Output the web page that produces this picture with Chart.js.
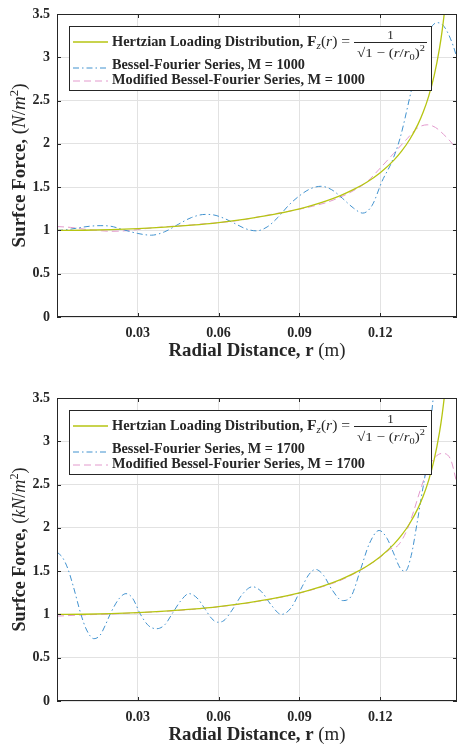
<!DOCTYPE html>
<html>
<head>
<meta charset="utf-8">
<script src="https://cdn.jsdelivr.net/npm/chart.js@4.4.0/dist/chart.umd.min.js"></script>
<style>
  html, body { margin: 0; padding: 0; background: #fff; }
  .panel { position: absolute; left: 0; width: 458px; height: 364px; }
</style>
</head>
<body>
<div class="panel" style="top:0"><canvas id="upper" width="458" height="364"></canvas></div>
<div class="panel" style="top:384px"><canvas id="lower" width="458" height="364"></canvas></div>
<script>
// tick positions
const xTicks = [0.03, 0.06, 0.09, 0.12];
const yTicks = [0, 0.5, 1, 1.5, 2, 2.5, 3, 3.5];

// Hertzian loading, same in both panels
const radius = [0, 0.01, 0.02, 0.03, 0.04, 0.05, 0.06, 0.07, 0.08, 0.09, 0.095, 0.1, 0.105, 0.11, 0.115, 0.12, 0.125, 0.128, 0.131, 0.134, 0.136, 0.138, 0.14, 0.142, 0.143, 0.144, 0.145];
const hertzian = [1, 1.002, 1.009, 1.021, 1.038, 1.061, 1.091, 1.131, 1.182, 1.25, 1.292, 1.342, 1.4, 1.471, 1.557, 1.667, 1.809, 1.918, 2.053, 2.225, 2.37, 2.552, 2.785, 3.104, 3.311, 3.571, 3.906];

// M = 1000
const radius1000 = [0, 0.004, 0.008, 0.012, 0.016, 0.02, 0.025, 0.03, 0.035, 0.04, 0.045, 0.05, 0.055, 0.058, 0.062, 0.066, 0.07, 0.074, 0.078, 0.082, 0.086, 0.09, 0.094, 0.098, 0.102, 0.106, 0.11, 0.1135, 0.117, 0.1207, 0.1244, 0.1274, 0.1315, 0.1345, 0.1374, 0.1395, 0.1411, 0.143, 0.1448, 0.147, 0.149];
const bessel1000 = [1.0, 1.01, 1.03, 1.048, 1.055, 1.048, 1.005, 0.965, 0.945, 0.985, 1.07, 1.15, 1.185, 1.18, 1.14, 1.08, 1.02, 0.995, 1.04, 1.15, 1.29, 1.40, 1.48, 1.51, 1.47, 1.37, 1.26, 1.20, 1.29, 1.57, 1.80, 2.07, 2.61, 3.0, 3.26, 3.37, 3.40, 3.38, 3.30, 3.14, 2.94];
const radiusMod1000 = [0, 0.005, 0.01, 0.015, 0.02, 0.025, 0.03, 0.035, 0.04, 0.045, 0.05, 0.055, 0.06, 0.065, 0.07, 0.075, 0.08, 0.085, 0.09, 0.095, 0.1, 0.105, 0.11, 0.115, 0.12, 0.125, 0.13, 0.1337, 0.1374, 0.1405, 0.1435, 0.146, 0.149];
const modified1000 = [1.045, 1.035, 1.015, 1.0, 0.99, 0.995, 1.01, 1.028, 1.042, 1.053, 1.064, 1.078, 1.09, 1.105, 1.128, 1.158, 1.188, 1.215, 1.245, 1.28, 1.322, 1.382, 1.458, 1.56, 1.72, 1.89, 2.06, 2.18, 2.22, 2.19, 2.11, 2.03, 1.91];

// M = 1700
const radius1700 = [0, 0.002, 0.004, 0.006, 0.0089, 0.011, 0.0137, 0.016, 0.018, 0.02, 0.023, 0.0256, 0.028, 0.031, 0.034, 0.037, 0.04, 0.043, 0.046, 0.049, 0.052, 0.055, 0.0575, 0.0596, 0.062, 0.065, 0.069, 0.0726, 0.076, 0.0795, 0.0833, 0.087, 0.091, 0.0935, 0.096, 0.099, 0.102, 0.106, 0.109, 0.1126, 0.116, 0.1196, 0.1225, 0.1248, 0.1275, 0.1293, 0.1315, 0.1337, 0.1355, 0.1367, 0.1382, 0.1396, 0.141];
const bessel1700 = [1.72, 1.66, 1.53, 1.33, 1.0, 0.82, 0.72, 0.76, 0.88, 1.02, 1.18, 1.24, 1.19, 1.0, 0.87, 0.835, 0.88, 1.02, 1.16, 1.24, 1.19, 1.06, 0.95, 0.91, 0.93, 1.05, 1.24, 1.32, 1.26, 1.11, 1.0, 1.08, 1.32, 1.46, 1.52, 1.45, 1.29, 1.16, 1.2, 1.51, 1.82, 1.97, 1.88, 1.72, 1.53, 1.5, 1.68, 2.06, 2.4, 2.62, 3.05, 3.48, 3.9];
const radiusMod1700 = [0, 0.01, 0.02, 0.03, 0.04, 0.05, 0.06, 0.07, 0.08, 0.09, 0.1, 0.105, 0.11, 0.115, 0.12, 0.1235, 0.1267, 0.13, 0.1325, 0.1348, 0.1378, 0.1405, 0.143, 0.146, 0.1485];
const modified1700 = [0.98, 0.995, 1.005, 1.02, 1.035, 1.057, 1.088, 1.128, 1.18, 1.245, 1.335, 1.39, 1.465, 1.555, 1.66, 1.75, 1.8, 1.98, 2.2, 2.43, 2.69, 2.82, 2.86, 2.8, 2.51];

const GREEN = '#b6c512';
const BLUE = '#4192cf';
const PINK = '#e39acd';
const INK = '#262626';
const SERIF = '"Liberation Serif", "DejaVu Serif", serif';
const bold = s => 'bold ' + s + 'px ' + SERIF;
const ital = s => 'italic ' + s + 'px ' + SERIF;
const reg = s => s + 'px ' + SERIF;

function pairs(xs, ys) {
  return xs.map((x, i) => ({ x: x, y: ys[i] }));
}

function runWidth(ctx, runs) {
  let w = 0;
  runs.forEach(r => { ctx.font = r.font; w += ctx.measureText(r.t).width; });
  return w;
}

function drawRuns(ctx, runs, x, y) {
  runs.forEach(r => {
    ctx.font = r.font;
    ctx.fillText(r.t, x, y + (r.dy || 0));
    x += ctx.measureText(r.t).width;
  });
  return x;
}

// draws a run list stretched to a given width, returns the right end
function drawFit(ctx, runs, x, y, width) {
  const w = runWidth(ctx, runs);
  ctx.save();
  ctx.translate(x, y);
  ctx.scale(width / w, 1);
  drawRuns(ctx, runs, 0, 0);
  ctx.restore();
  return x + width;
}

function sample(ctx, x0, x1, y, color, dash, width) {
  ctx.save();
  ctx.strokeStyle = color;
  ctx.lineWidth = width;
  ctx.setLineDash(dash);
  ctx.beginPath();
  ctx.moveTo(x0, y);
  ctx.lineTo(x1, y);
  ctx.stroke();
  ctx.restore();
}

// box, inward ticks, axis titles and the legend
const framePlugin = {
  id: 'frame',
  afterDraw(chart, args, opts) {
    const ctx = chart.ctx;
    const a = chart.chartArea;
    const sx = chart.scales.x, sy = chart.scales.y;
    ctx.save();
    ctx.strokeStyle = INK;
    ctx.lineWidth = 1;
    ctx.strokeRect(a.left + 0.5, a.top + 0.5, a.right - a.left - 1, a.bottom - a.top - 1);
    ctx.beginPath();
    xTicks.forEach(v => {
      const px = Math.round(sx.getPixelForValue(v)) + 0.5;
      ctx.moveTo(px, a.bottom); ctx.lineTo(px, a.bottom - 4);
      ctx.moveTo(px, a.top); ctx.lineTo(px, a.top + 4);
    });
    yTicks.forEach(v => {
      const py = Math.round(sy.getPixelForValue(v)) + 0.5;
      ctx.moveTo(a.left, py); ctx.lineTo(a.left + 4, py);
      ctx.moveTo(a.right, py); ctx.lineTo(a.right - 4, py);
    });
    ctx.stroke();

    ctx.fillStyle = INK;
    ctx.textBaseline = 'alphabetic';

    // x title
    const xRuns = [{ t: 'Radial Distance, r ', font: bold(18) }, { t: '(m)', font: reg(18) }];
    drawFit(ctx, xRuns, (a.left + a.right) / 2 - 88.5, a.bottom + 38.5, 177);

    // y title
    const yRuns = [
      { t: 'Surfce Force, ', font: bold(18) },
      { t: '(', font: reg(18) },
      { t: opts.unit, font: ital(18) },
      { t: '/', font: reg(18) },
      { t: 'm', font: ital(18) },
      { t: '2', font: reg(12), dy: -7 },
      { t: ')', font: reg(18) }
    ];
    ctx.save();
    ctx.translate(24.5, (a.top + a.bottom) / 2);
    ctx.rotate(-Math.PI / 2);
    drawFit(ctx, yRuns, -82, 0, 164);
    ctx.restore();

    // legend
    const bx = a.left + 12, by = a.top + 12;
    ctx.fillStyle = '#fff';
    ctx.fillRect(bx, by, 362, 64);
    ctx.strokeStyle = INK;
    ctx.strokeRect(bx + 0.5, by + 0.5, 362, 64);
    sample(ctx, a.left + 16, a.left + 51, a.top + 28, GREEN, [], 1.3);
    sample(ctx, a.left + 16, a.left + 51, a.top + 54, BLUE, [6, 3, 1.5, 3], 1);
    sample(ctx, a.left + 16, a.left + 51, a.top + 67, PINK, [7, 4], 1);

    ctx.fillStyle = INK;
    const tx = a.left + 55;
    let x = drawFit(ctx, [{ t: 'Hertzian Loading Distribution, ', font: bold(14) }], tx, a.top + 32, 195);
    x = drawFit(ctx, [
      { t: 'F', font: bold(14) },
      { t: 'z', font: ital(10), dy: 3 },
      { t: '(', font: reg(14) },
      { t: 'r', font: ital(14) },
      { t: ') = ', font: reg(14) }
    ], x, a.top + 32, 47);
    const den = [
      { t: '\u221A', font: reg(13) },
      { t: '1 \u2212 (', font: reg(13) },
      { t: 'r', font: ital(13) },
      { t: '/', font: reg(13) },
      { t: 'r', font: ital(13) },
      { t: '0', font: reg(9), dy: 3 },
      { t: ')', font: reg(13) },
      { t: '2', font: reg(9), dy: -6 }
    ];
    const barY = a.top + 28.5;
    ctx.beginPath();
    ctx.moveTo(x, barY);
    ctx.lineTo(x + 73, barY);
    ctx.stroke();
    ctx.font = reg(13);
    ctx.textAlign = 'center';
    ctx.fillText('1', x + 36.5, barY - 4);
    ctx.textAlign = 'left';
    drawFit(ctx, den, x + 3, barY + 14, 68);

    drawFit(ctx, [{ t: 'Bessel-Fourier Series, M = ' + opts.terms, font: bold(14) }], tx, a.top + 55, 193);
    drawFit(ctx, [{ t: 'Modified Bessel-Fourier Series, M = ' + opts.terms, font: bold(14) }], tx, a.top + 70, 253);
    ctx.restore();
  }
};

function makeChart(id, unit, terms, rB, fB, rM, fM) {
  return new Chart(document.getElementById(id), {
    type: 'line',
    data: {
      datasets: [
        {
          label: 'Hertzian Loading Distribution',
          data: pairs(radius, hertzian),
          borderColor: GREEN, borderWidth: 1.3, clip: 0
        },
        {
          label: 'Bessel-Fourier Series, M = ' + terms,
          data: pairs(rB, fB),
          borderColor: BLUE, borderWidth: 1, borderDash: [6, 3, 1.5, 3], clip: 0
        },
        {
          label: 'Modified Bessel-Fourier Series, M = ' + terms,
          data: pairs(rM, fM),
          borderColor: PINK, borderWidth: 1, borderDash: [7, 4], clip: 0
        }
      ]
    },
    options: {
      responsive: false,
      animation: false,
      devicePixelRatio: 1,
      elements: {
        point: { radius: 0 },
        line: { cubicInterpolationMode: 'monotone', fill: false }
      },
      layout: { padding: { top: 6, right: 1, left: 0, bottom: 0 } },
      plugins: {
        legend: { display: false },
        tooltip: { enabled: false },
        frame: { unit: unit, terms: terms }
      },
      scales: {
        x: {
          type: 'linear',
          min: 0, max: 0.1485,
          afterBuildTicks: s => { s.ticks = xTicks.map(v => ({ value: v })); },
          afterFit: s => { s.height = 47; },
          grid: { color: '#e2e2e2', drawTicks: false },
          border: { display: false },
          ticks: {
            padding: 9,
            color: INK,
            font: { family: SERIF, weight: 'bold', size: 14, lineHeight: 1 },
            callback: v => v.toFixed(2)
          }
        },
        y: {
          min: 0, max: 3.5,
          afterBuildTicks: s => { s.ticks = yTicks.map(v => ({ value: v })); },
          afterFit: s => { s.width = 57; },
          grid: { color: '#e2e2e2', drawTicks: false },
          border: { display: false },
          ticks: {
            padding: 7,
            color: INK,
            font: { family: SERIF, weight: 'bold', size: 14, lineHeight: 1 },
            callback: v => String(v)
          }
        }
      }
    },
    plugins: [framePlugin]
  });
}

makeChart('upper', 'N', '1000', radius1000, bessel1000, radiusMod1000, modified1000);
makeChart('lower', 'kN', '1700', radius1700, bessel1700, radiusMod1700, modified1700);
</script>
</body>
</html>
